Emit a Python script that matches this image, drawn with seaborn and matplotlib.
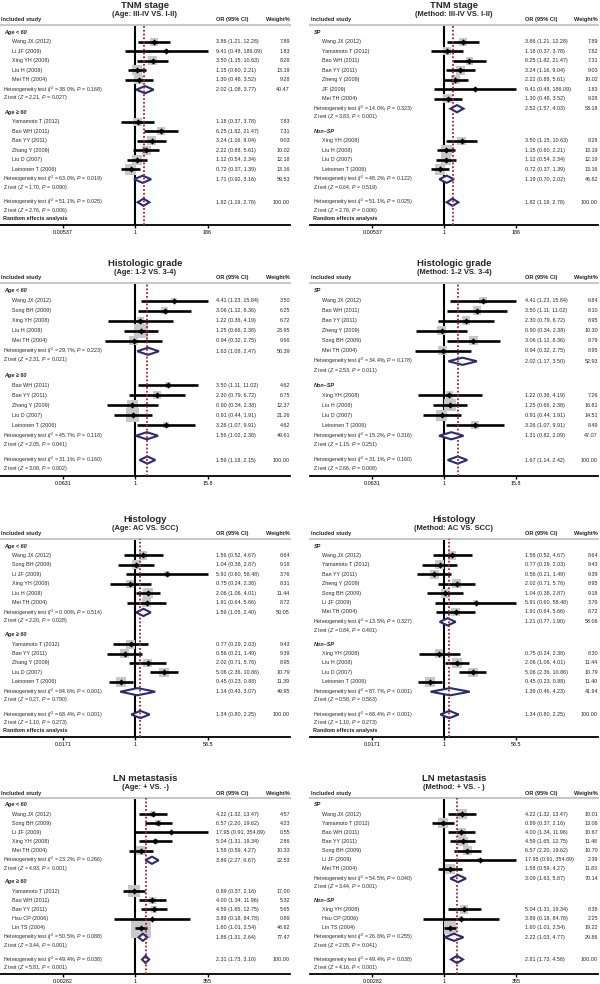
import numpy as np
import pandas as pd
import matplotlib
matplotlib.use("Agg")
import matplotlib.pyplot as plt
import matplotlib.transforms as mtransforms
from matplotlib.ticker import NullLocator, FixedLocator, FixedFormatter
import seaborn as sns

sns.set_theme(style="white")
plt.rcParams["font.family"] = ["Liberation Sans", "DejaVu Sans"]
plt.rcParams["mathtext.fontset"] = "custom"
plt.rcParams["mathtext.rm"] = "Liberation Sans"
plt.rcParams["mathtext.it"] = "Liberation Sans:italic"
plt.rcParams["mathtext.bf"] = "Liberation Sans:bold"

# ---------------- DATA ----------------
# Panel 1: TNM stage by age
p1_title = "TNM stage"
p1_subtitle = "(Age: III-IV VS. I-II)"
p1_ticks = [0.00537, 1, 186]
p1_tick_labels = ["0.00537", "1", "186"]
p1_groups = ["Age < 60", "Age ≥ 60"]
p1_n = [5, 6]
p1_study = ["Wang JX (2012)", "Li JF (2009)", "Xing YH (2008)", "Liu H (2008)", "Mei TH (2004)",
            "Yamamoto T (2012)", "Bao WH (2011)", "Ban YY (2011)", "Zhang Y (2009)", "Liu D (2007)",
            "Leinonen T (2006)"]
p1_or = [3.86, 9.41, 3.50, 1.15, 1.30, 1.18, 6.25, 3.24, 2.22, 1.12, 0.72]
p1_lo = [1.21, 0.48, 1.15, 0.60, 0.48, 0.37, 1.82, 1.16, 0.88, 0.54, 0.37]
p1_hi = [12.28, 186.09, 10.63, 2.21, 3.52, 3.78, 21.47, 9.04, 5.61, 2.34, 1.39]
p1_w = [7.89, 1.83, 8.28, 13.19, 9.28, 7.83, 7.31, 9.03, 10.02, 12.18, 13.16]
p1_sum_or = [2.02, 1.71, 1.82]
p1_sum_lo = [1.08, 0.92, 1.19]
p1_sum_hi = [3.77, 3.16, 2.78]
p1_sum_w = [40.47, 59.53, 100.00]
p1_i2 = ["38.0%", "63.0%", "51.1%"]
p1_het_p = ["= 0.168", "= 0.019", "= 0.025"]
p1_z = ["2.21", "1.70", "2.76"]
p1_z_p = ["= 0.027", "= 0.090", "= 0.006"]
p1_random = True

# Panel 2: TNM stage by method
p2_title = "TNM stage"
p2_subtitle = "(Method: III-IV VS. I-II)"
p2_ticks = [0.00537, 1, 186]
p2_tick_labels = ["0.00537", "1", "186"]
p2_groups = ["SP", "Non–SP"]
p2_n = [7, 4]
p2_study = ["Wang JX (2012)", "Yamamoto T (2012)", "Bao WH (2011)", "Ban YY (2011)", "Zheng Y (2009)",
            "JF (2009)", "Mei TH (2004)",
            "Xing YH (2008)", "Liu H (2008)", "Liu D (2007)", "Leinonen T (2006)"]
p2_or = [3.86, 1.18, 6.25, 3.24, 2.22, 9.41, 1.30, 3.50, 1.15, 1.12, 0.72]
p2_lo = [1.21, 0.37, 1.82, 1.16, 0.88, 0.48, 0.48, 1.15, 0.60, 0.54, 0.37]
p2_hi = [12.28, 3.78, 21.47, 9.04, 5.61, 186.09, 3.52, 10.63, 2.21, 2.34, 1.39]
p2_w = [7.89, 7.82, 7.31, 9.03, 10.02, 1.83, 9.28, 8.28, 13.19, 12.19, 13.16]
p2_sum_or = [2.52, 1.19, 1.82]
p2_sum_lo = [1.57, 0.70, 1.19]
p2_sum_hi = [4.03, 2.02, 2.78]
p2_sum_w = [53.18, 46.82, 100.00]
p2_i2 = ["14.0%", "48.2%", "51.1%"]
p2_het_p = ["= 0.323", "= 0.122", "= 0.025"]
p2_z = ["3.83", "0.64", "2.76"]
p2_z_p = ["< 0.001", "= 0.519", "= 0.006"]
p2_random = True

# Panel 3: Histologic grade by age
p3_title = "Histologic grade"
p3_subtitle = "(Age: 1-2 VS. 3-4)"
p3_ticks = [0.0631, 1, 15.8]
p3_tick_labels = ["0.0631", "1", "15.8"]
p3_groups = ["Age < 60", "Age ≥ 60"]
p3_n = [5, 5]
p3_study = ["Wang JX (2012)", "Song BH (2009)", "Xing YH (2008)", "Liu H (2008)", "Mei TH (2004)",
            "Bao WH (2011)", "Ban YY (2011)", "Zhang Y (2009)", "Liu D (2007)", "Leinonen T (2006)"]
p3_or = [4.41, 3.06, 1.22, 1.25, 0.94, 3.50, 2.30, 0.90, 0.91, 3.26]
p3_lo = [1.23, 1.12, 0.36, 0.66, 0.32, 1.11, 0.79, 0.34, 0.44, 1.07]
p3_hi = [15.84, 8.36, 4.19, 2.38, 2.75, 11.02, 6.72, 2.38, 1.91, 9.91]
p3_w = [3.50, 6.25, 6.72, 23.95, 9.96, 4.62, 6.75, 12.37, 21.26, 4.62]
p3_sum_or = [1.63, 1.56, 1.59]
p3_sum_lo = [1.08, 1.02, 1.18]
p3_sum_hi = [2.47, 2.38, 2.15]
p3_sum_w = [50.39, 49.61, 100.00]
p3_i2 = ["29.7%", "45.7%", "31.1%"]
p3_het_p = ["= 0.223", "= 0.118", "= 0.160"]
p3_z = ["2.31", "2.05", "3.08"]
p3_z_p = ["= 0.021", "= 0.041", "= 0.002"]
p3_random = False

# Panel 4: Histologic grade by method
p4_title = "Histologic grade"
p4_subtitle = "(Method: 1-2 VS. 3-4)"
p4_ticks = [0.0631, 1, 15.8]
p4_tick_labels = ["0.0631", "1", "15.8"]
p4_groups = ["SP", "Non–SP"]
p4_n = [6, 4]
p4_study = ["Wang JX (2012)", "Bao WH (2011)", "Ban YY (2011)", "Zheng Y (2009)", "Song BH (2009)",
            "Mei TH (2004)",
            "Xing YH (2008)", "Liu H (2008)", "Liu D (2007)", "Leinonen T (2006)"]
p4_or = [4.41, 3.50, 2.30, 0.90, 3.06, 0.94, 1.22, 1.25, 0.91, 3.26]
p4_lo = [1.23, 1.11, 0.79, 0.34, 1.12, 0.32, 0.36, 0.66, 0.44, 1.07]
p4_hi = [15.84, 11.02, 6.72, 2.38, 8.36, 2.75, 4.19, 2.38, 1.91, 9.91]
p4_w = [6.84, 8.10, 8.95, 10.30, 9.79, 8.95, 7.26, 16.81, 14.51, 8.49]
p4_sum_or = [2.02, 1.31, 1.67]
p4_sum_lo = [1.17, 0.82, 1.14]
p4_sum_hi = [3.50, 2.09, 2.42]
p4_sum_w = [52.93, 47.07, 100.00]
p4_i2 = ["34.4%", "15.2%", "31.1%"]
p4_het_p = ["= 0.178", "= 0.316", "= 0.160"]
p4_z = ["2.53", "1.15", "2.66"]
p4_z_p = ["= 0.011", "= 0.251", "= 0.008"]
p4_random = False

# Panel 5: Histology by age
p5_title = "Histology"
p5_subtitle = "(Age: AC VS. SCC)"
p5_ticks = [0.0171, 1, 58.5]
p5_tick_labels = ["0.0171", "1", "58.5"]
p5_groups = ["Age < 60", "Age ≥ 60"]
p5_n = [6, 5]
p5_study = ["Wang JX (2012)", "Song BH (2009)", "Li JF (2009)", "Xing YH (2008)", "Liu H (2008)",
            "Mei TH (2004)",
            "Yamamoto T (2012)", "Ban YY (2011)", "Zhang Y (2009)", "Liu D (2007)", "Leinonen T (2006)"]
p5_or = [1.56, 1.04, 5.91, 0.75, 2.06, 1.91, 0.77, 0.56, 2.02, 5.06, 0.45]
p5_lo = [0.52, 0.38, 0.60, 0.24, 1.06, 0.64, 0.29, 0.21, 0.71, 2.36, 0.23]
p5_hi = [4.67, 2.87, 58.48, 2.38, 4.01, 5.66, 2.03, 1.49, 5.76, 10.86, 0.88]
p5_w = [8.64, 9.18, 3.76, 8.31, 11.44, 8.72, 9.43, 9.39, 8.95, 10.79, 11.39]
p5_sum_or = [1.59, 1.14, 1.34]
p5_sum_lo = [1.05, 0.43, 0.80]
p5_sum_hi = [2.40, 3.07, 2.25]
p5_sum_w = [50.05, 49.95, 100.00]
p5_i2 = ["0.00%", "84.6%", "68.4%"]
p5_het_p = ["= 0.514", "< 0.001", "< 0.001"]
p5_z = ["2.20", "0.27", "1.10"]
p5_z_p = ["= 0.028", "= 0.790", "= 0.273"]
p5_random = True

# Panel 6: Histology by method
p6_title = "Histology"
p6_subtitle = "(Method: AC VS. SCC)"
p6_ticks = [0.0171, 1, 58.5]
p6_tick_labels = ["0.0171", "1", "58.5"]
p6_groups = ["SP", "Non–SP"]
p6_n = [7, 4]
p6_study = ["Wang JX (2012)", "Yamamoto T (2012)", "Ban YY (2011)", "Zheng Y (2009)", "Song BH (2009)",
            "Li JF (2009)", "Mei TH (2004)",
            "Xing YH (2008)", "Liu H (2008)", "Liu D (2007)", "Leinonen T (2006)"]
p6_or = [1.56, 0.77, 0.56, 2.02, 1.04, 5.91, 1.91, 0.75, 2.06, 5.06, 0.45]
p6_lo = [0.52, 0.29, 0.21, 0.71, 0.38, 0.60, 0.64, 0.24, 1.06, 2.36, 0.23]
p6_hi = [4.67, 2.03, 1.49, 5.76, 2.87, 58.48, 5.66, 2.38, 4.01, 10.86, 0.88]
p6_w = [8.64, 9.43, 9.39, 8.95, 9.18, 3.76, 8.72, 8.30, 11.44, 10.79, 11.40]
p6_sum_or = [1.21, 1.39, 1.34]
p6_sum_lo = [0.77, 0.46, 0.80]
p6_sum_hi = [1.90, 4.23, 2.25]
p6_sum_w = [58.06, 41.94, 100.00]
p6_i2 = ["13.5%", "87.7%", "68.4%"]
p6_het_p = ["= 0.327", "< 0.001", "< 0.001"]
p6_z = ["0.84", "0.58", "1.10"]
p6_z_p = ["= 0.401", "= 0.563", "= 0.273"]
p6_random = True

# Panel 7: LN metastasis by age
p7_title = "LN metastasis"
p7_subtitle = "(Age: + VS. -)"
p7_ticks = [0.00282, 1, 355]
p7_tick_labels = ["0.00282", "1", "355"]
p7_groups = ["Age < 60", "Age ≥ 60"]
p7_n = [5, 5]
p7_study = ["Wang JX (2012)", "Song BH (2009)", "Li JF (2009)", "Xing YH (2008)", "Mei TH (2004)",
            "Yamamoto T (2012)", "Bao WH (2011)", "Ban YY (2011)", "Hsu CP (2006)", "Lin TS (2004)"]
p7_or = [4.22, 6.57, 17.95, 5.04, 1.58, 0.89, 4.00, 4.59, 3.89, 1.60]
p7_lo = [1.32, 2.20, 0.91, 1.31, 0.59, 0.37, 1.34, 1.65, 0.18, 1.01]
p7_hi = [13.47, 19.62, 354.89, 19.34, 4.27, 2.16, 11.96, 12.75, 84.78, 2.54]
p7_w = [4.57, 4.23, 0.55, 2.86, 10.33, 17.00, 5.32, 5.65, 0.89, 48.62]
p7_sum_or = [3.89, 1.86, 2.31]
p7_sum_lo = [2.27, 1.31, 1.73]
p7_sum_hi = [6.67, 2.64, 3.10]
p7_sum_w = [22.53, 77.47, 100.00]
p7_i2 = ["23.2%", "50.5%", "49.4%"]
p7_het_p = ["= 0.266", "= 0.088", "= 0.038"]
p7_z = ["4.93", "3.44", "5.81"]
p7_z_p = ["< 0.001", "= 0.001", "< 0.001"]
p7_random = False

# Panel 8: LN metastasis by method
p8_title = "LN metastasis"
p8_subtitle = "(Method: + VS. - )"
p8_ticks = [0.00282, 1, 355]
p8_tick_labels = ["0.00282", "1", "355"]
p8_groups = ["SP", "Non–SP"]
p8_n = [7, 3]
p8_study = ["Wang JX (2012)", "Yamamoto T (2012)", "Bao WH (2011)", "Ban YY (2011)", "Song BH (2009)",
            "Li JF (2009)", "Mei TH (2004)",
            "Xing YH (2008)", "Hsu CP (2006)", "Lin TS (2004)"]
p8_or = [4.22, 0.89, 4.00, 4.59, 6.57, 17.95, 1.58, 5.04, 3.89, 1.60]
p8_lo = [1.32, 0.37, 1.34, 1.65, 2.20, 0.91, 0.59, 1.31, 0.18, 1.01]
p8_hi = [13.47, 2.16, 11.96, 12.75, 19.62, 354.89, 4.27, 19.34, 84.78, 2.54]
p8_w = [10.01, 13.06, 10.67, 11.48, 10.70, 2.39, 11.83, 8.38, 2.25, 19.22]
p8_sum_or = [3.09, 2.22, 2.81]
p8_sum_lo = [1.63, 1.03, 1.73]
p8_sum_hi = [5.87, 4.77, 4.58]
p8_sum_w = [70.14, 29.86, 100.00]
p8_i2 = ["54.5%", "26.8%", "49.4%"]
p8_het_p = ["= 0.040", "= 0.255", "= 0.038"]
p8_z = ["3.44", "2.05", "4.16"]
p8_z_p = ["= 0.001", "= 0.041", "< 0.001"]
p8_random = False

# ---------------- STYLE / LAYOUT ----------------
FIG_W, FIG_H = 600, 984
NAVY = "#2b2d6b"
DARKRED = "#952a38"
GRAY = "#c8c8c8"
FS = 3.9

# panel boxes in pixels: left, top, right, bottom
BOXES = [(0, 25, 290, 225), (310, 25, 598, 225),
         (0, 283, 290, 476), (310, 283, 598, 476),
         (0, 539, 290, 737), (310, 539, 598, 737),
         (0, 798, 290, 974), (310, 798, 598, 974)]

TOP, HET_GAP, Z_GAP, GROUP_GAP = -0.75, 1.05, 0.87, 1.5
OVERALL_GAP, Z2_GAP, RAND_GAP, BOTTOM_GAP = 1.55, 0.87, 0.8, 0.72


def layout(n_per_group, has_random):
    glabel, study_y, het_y, z_y = [], [], [], []
    y = 0.0
    for gi, n in enumerate(n_per_group):
        if gi > 0:
            y = z_y[-1] + GROUP_GAP
        glabel.append(y)
        for _ in range(n):
            y += 1
            study_y.append(y)
        y += HET_GAP
        het_y.append(y)
        y += Z_GAP
        z_y.append(y)
    y += OVERALL_GAP
    het_y.append(y)
    y += Z2_GAP
    z_y.append(y)
    rand_y = None
    if has_random:
        y += RAND_GAP
        rand_y = y
    return dict(glabel=glabel, study=study_y, het=het_y, z=z_y, rand=rand_y,
                top=TOP, bottom=y + BOTTOM_GAP)


panels = []
for i in range(1, 9):
    g = globals()
    panels.append({k: g[f"p{i}_{k}"] for k in
                   ["title", "subtitle", "ticks", "tick_labels", "groups", "n", "study", "or",
                    "lo", "hi", "w", "sum_or", "sum_lo", "sum_hi", "sum_w", "i2", "het_p",
                    "z", "z_p", "random"]})

fig = plt.figure(figsize=(FIG_W / 100, FIG_H / 100), dpi=100)
fig.patch.set_facecolor("white")


def above(ax, dy_px):
    return ax.transAxes + mtransforms.ScaledTranslation(0, dy_px / 100, fig.dpi_scale_trans)


for P, (bl, bt, br, bb) in zip(panels, BOXES):
    ax = fig.add_axes([bl / FIG_W, 1 - bb / FIG_H, (br - bl) / FIG_W, (bb - bt) / FIG_H])
    ax.set_facecolor("none")
    L = layout(P["n"], P["random"])
    D = np.log10(P["ticks"][-1])
    px_per_unit = (bb - bt) / (L["bottom"] - L["top"])

    df = pd.DataFrame({"study": P["study"], "est": P["or"], "lo": P["lo"], "hi": P["hi"],
                       "w": P["w"], "y": L["study"]})

    ax.axvline(1, color="black", lw=1.5, zorder=1)
    sns.scatterplot(data=df, x="est", y="y", size="w", sizes=(0, 440), size_norm=(0, 100),
                    marker="s", color=GRAY, linewidth=0, legend=False, ax=ax, zorder=2)
    ax.hlines(df["y"], df["lo"], df["hi"], color="black", lw=1.9, zorder=3)
    sns.scatterplot(data=df, x="est", y="y", marker="D", s=10, color="black", linewidth=0,
                    legend=False, ax=ax, zorder=4)

    h = 3.6 / px_per_unit
    for est, lo, hi, yy in zip(P["sum_or"], P["sum_lo"], P["sum_hi"], L["het"]):
        ax.fill([lo, est, hi, est, lo], [yy, yy - h, yy, yy + h, yy], facecolor="white",
                edgecolor=NAVY, lw=1.5, zorder=5, joinstyle="miter")
    ax.axvline(P["sum_or"][-1], color=DARKRED, lw=1.3, ls=(0, (1, 1.1)), zorder=6)

    ax.set_xscale("log")
    ax.set_xlim(10 ** (-1.87 * D), 10 ** (2.14 * D))
    ax.set_ylim(L["bottom"], L["top"])
    ax.set_xlabel("")
    ax.set_ylabel("")
    ax.xaxis.set_major_locator(FixedLocator(P["ticks"]))
    ax.xaxis.set_major_formatter(FixedFormatter(P["tick_labels"]))
    ax.xaxis.set_minor_locator(NullLocator())
    ax.tick_params(axis="x", which="major", bottom=True, direction="out", length=2.2,
                   width=1.0, labelsize=FS, pad=1.6, colors="black")
    ax.tick_params(axis="y", left=False, labelleft=False)
    for s in ["left", "right"]:
        ax.spines[s].set_visible(False)
    ax.spines["top"].set_color(GRAY)
    ax.spines["top"].set_linewidth(1.5)
    ax.spines["bottom"].set_color("black")
    ax.spines["bottom"].set_linewidth(1.3)

    tr = mtransforms.blended_transform_factory(ax.transAxes, ax.transData)
    x_head, x_grp, x_study, x_het, x_or, x_w = 0.003, 0.014, 0.04, 0.012, 0.745, 1.0

    # titles and headers
    ax.text(0.5, 1, P["title"], transform=above(ax, 19.5), ha="center", va="center",
            fontsize=6.8, fontweight="bold")
    ax.text(0.5, 1, P["subtitle"], transform=above(ax, 10.2), ha="center", va="center",
            fontsize=5.4, fontweight="bold")
    ax.text(x_head, 1, "Included study", transform=above(ax, 5), ha="left", va="center",
            fontsize=4.1, fontweight="bold")
    ax.text(x_or, 1, "OR (95% CI)", transform=above(ax, 5), ha="left", va="center",
            fontsize=4.1, fontweight="bold")
    ax.text(x_w, 1, "Weight%", transform=above(ax, 5), ha="right", va="center",
            fontsize=4.1, fontweight="bold")

    for gname, gy in zip(P["groups"], L["glabel"]):
        ax.text(x_grp, gy, gname, transform=tr, ha="left", va="center", fontsize=4.0,
                fontweight="bold", style="italic")
    for r in df.itertuples():
        ax.text(x_study, r.y, r.study, transform=tr, ha="left", va="center", fontsize=FS)
        ax.text(x_or, r.y, f"{r.est:.2f} ({r.lo:.2f}, {r.hi:.2f})",
                transform=tr, ha="left", va="center", fontsize=FS)
        ax.text(x_w, r.y, f"{r.w:.2f}", transform=tr, ha="right", va="center", fontsize=FS)
    for k in range(len(P["sum_or"])):
        hy, zy = L["het"][k], L["z"][k]
        ax.text(x_het, hy, f"Heterogeneity test ($I^2$ = {P['i2'][k]}, $P$ {P['het_p'][k]})",
                transform=tr, ha="left", va="center", fontsize=3.8)
        ax.text(x_het, zy, f"Z test ($Z$ = {P['z'][k]}, $P$ {P['z_p'][k]})",
                transform=tr, ha="left", va="center", fontsize=3.8)
        ax.text(x_or, hy, f"{P['sum_or'][k]:.2f} ({P['sum_lo'][k]:.2f}, {P['sum_hi'][k]:.2f})",
                transform=tr, ha="left", va="center", fontsize=FS)
        ax.text(x_w, hy, f"{P['sum_w'][k]:.2f}", transform=tr, ha="right", va="center",
                fontsize=FS)
    if L["rand"] is not None:
        ax.text(x_het, L["rand"], "Random effects analysis", transform=tr, ha="left",
                va="center", fontsize=4.0, fontweight="bold")

fig.savefig("out.png", dpi=100, facecolor="white")
